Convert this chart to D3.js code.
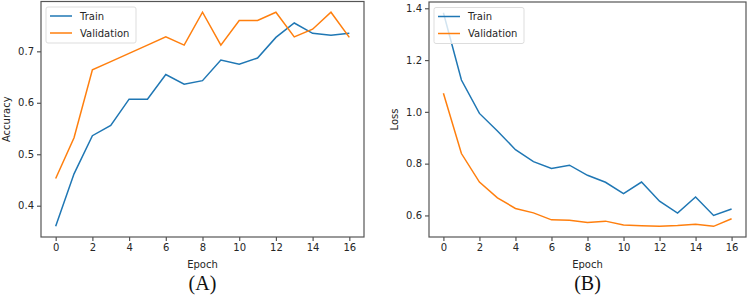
<!DOCTYPE html>
<html>
<head>
<meta charset="utf-8">
<script src="https://cdn.jsdelivr.net/npm/d3@7"></script>
<style>
    body { margin: 0; background: #fff; }
    svg text { font-family: "DejaVu Sans", sans-serif; fill: #262626; }
    .axis path, .axis line { stroke: #555; stroke-width: 1.2; }
    .axis text { font-size: 10px; }
    .caption { font-family: "Liberation Serif", serif !important; font-size: 20px; fill: #111 !important; }
</style>
</head>
<body>
<svg id="chart" width="754" height="295"></svg>
<script>
// ===== Data =====
const epochs = d3.range(0, 17);
const accTrain = [0.360, 0.462, 0.536, 0.556, 0.607, 0.607, 0.655, 0.636, 0.643, 0.683, 0.675, 0.687, 0.727, 0.755, 0.735, 0.731, 0.735];
const accVal   = [0.453, 0.532, 0.664, 0.680, 0.696, 0.712, 0.728, 0.712, 0.776, 0.712, 0.760, 0.760, 0.776, 0.728, 0.743, 0.776, 0.727];
const lossTrain = [1.383, 1.123, 0.994, 0.926, 0.854, 0.808, 0.781, 0.794, 0.755, 0.728, 0.684, 0.729, 0.655, 0.609, 0.671, 0.600, 0.625];
const lossVal   = [1.072, 0.839, 0.729, 0.668, 0.627, 0.610, 0.583, 0.581, 0.573, 0.578, 0.563, 0.560, 0.558, 0.561, 0.566, 0.558, 0.587];
const xTicks = [0, 2, 4, 6, 8, 10, 12, 14, 16];
const accTicks = [0.4, 0.5, 0.6, 0.7];
const lossTicks = [0.6, 0.8, 1.0, 1.2, 1.4];
const seriesNames = ['Train', 'Validation'];
const colors = ['#1f77b4', '#ff7f0e'];

const svg = d3.select('#chart');

function drawPanel(opts) {
    const { left, right, top, bottom, train, val, yTicks, yLabel, caption, yLabelX, legendW } = opts;
    const all = train.concat(val);
    const lo = d3.min(all), hi = d3.max(all);
    const pad = (hi - lo) * 0.05;

    const x = d3.scaleLinear().domain([-0.8, 16.8]).range([left, right]);
    const y = d3.scaleLinear().domain([lo - pad, hi + pad]).range([bottom, top]);

    const g = svg.append('g');

    // frame
    g.append('rect')
        .attr('x', left).attr('y', top)
        .attr('width', right - left).attr('height', bottom - top)
        .attr('fill', 'none').attr('stroke', '#555').attr('stroke-width', 1.2);

    // axes
    const xa = g.append('g').attr('class', 'axis')
        .attr('transform', `translate(0,${bottom})`)
        .call(d3.axisBottom(x).tickValues(xTicks).tickSize(4).tickPadding(3).tickFormat(d3.format('d')));
    xa.select('.domain').remove();

    const ya = g.append('g').attr('class', 'axis')
        .attr('transform', `translate(${left},0)`)
        .call(d3.axisLeft(y).tickValues(yTicks).tickSize(4).tickPadding(3).tickFormat(d3.format('.1f')));
    ya.select('.domain').remove();

    // lines
    const line = d3.line().x((d, i) => x(i)).y(d => y(d));
    [train, val].forEach((s, i) => {
        g.append('path')
            .datum(s)
            .attr('d', line)
            .attr('fill', 'none')
            .attr('stroke', colors[i])
            .attr('stroke-width', 1.5);
    });

    // labels
    g.append('text')
        .attr('x', (left + right) / 2).attr('y', 268)
        .attr('text-anchor', 'middle').attr('font-size', 10)
        .text('Epoch');

    g.append('text')
        .attr('transform', `translate(${yLabelX},${(top + bottom) / 2}) rotate(-90)`)
        .attr('text-anchor', 'middle').attr('font-size', 10)
        .text(yLabel);

    g.append('text')
        .attr('class', 'caption')
        .attr('x', (left + right) / 2).attr('y', 290)
        .attr('text-anchor', 'middle')
        .text(caption);

    // legend
    const lg = g.append('g').attr('transform', `translate(${left + 5},${top + 5.5})`);
    lg.append('rect')
        .attr('width', legendW).attr('height', 36).attr('rx', 2)
        .attr('fill', '#fff').attr('fill-opacity', 0.8)
        .attr('stroke', '#ddd').attr('stroke-width', 1);
    seriesNames.forEach((name, i) => {
        const yy = 9 + i * 17;
        lg.append('line')
            .attr('x1', 4).attr('x2', 26).attr('y1', yy).attr('y2', yy)
            .attr('stroke', colors[i]).attr('stroke-width', 1.5);
        lg.append('text')
            .attr('x', 34).attr('y', yy + 3.5)
            .attr('font-size', 10)
            .text(name);
    });
}

drawPanel({
    left: 41, right: 364, top: 1.5, bottom: 237,
    train: accTrain, val: accVal, yTicks: accTicks,
    yLabel: 'Accuracy', caption: '(A)', yLabelX: 10, legendW: 90
});

drawPanel({
    left: 429, right: 746, top: 2, bottom: 237,
    train: lossTrain, val: lossVal, yTicks: lossTicks,
    yLabel: 'Loss', caption: '(B)', yLabelX: 398, legendW: 90
});
</script>
</body>
</html>
